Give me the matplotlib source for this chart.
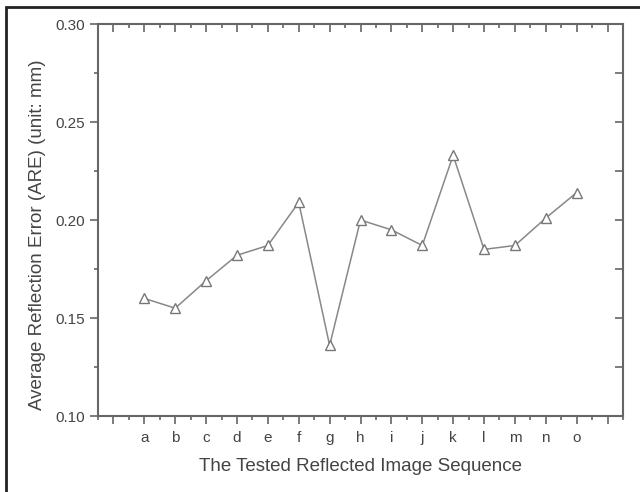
import matplotlib
matplotlib.use("Agg")
import matplotlib.pyplot as plt
from matplotlib.ticker import MultipleLocator, FixedLocator
from matplotlib.patches import Rectangle

# data
labels = ["a", "b", "c", "d", "e", "f", "g", "h", "i", "j", "k", "l", "m", "n", "o"]
are = [0.160, 0.155, 0.169, 0.182, 0.187, 0.209, 0.136, 0.200, 0.195, 0.187,
       0.233, 0.185, 0.187, 0.201, 0.214]

plt.rcParams["font.family"] = ["Liberation Sans", "DejaVu Sans"]
grey = "#666666"
txt = "#444444"

fig = plt.figure(figsize=(6.4, 4.92), dpi=100)
ax = fig.add_axes([98 / 640, 1 - 416 / 492, (623 - 98) / 640, (416 - 24) / 492])

x = list(range(1, len(labels) + 1))
ax.plot(x, are, color="#888888", lw=1.1, marker="^", markersize=7,
        markerfacecolor="white", markeredgecolor="#777777", markeredgewidth=1.0)

ax.set_xlim(-0.5, 16.5)
ax.set_ylim(0.10, 0.30)
ax.xaxis.set_major_locator(FixedLocator(range(0, 17)))
ax.set_xticklabels([""] + labels + [""])
ax.xaxis.set_minor_locator(MultipleLocator(0.5))
ax.yaxis.set_major_locator(MultipleLocator(0.05))
ax.yaxis.set_minor_locator(MultipleLocator(0.025))
ax.yaxis.set_major_formatter(plt.FuncFormatter(lambda v, p: f"{v:.2f}"))

for s in ax.spines.values():
    s.set_color(grey)
    s.set_linewidth(1.5)

ax.tick_params(which="both", direction="out", color=grey, width=1.2, labelcolor=txt,
               labelsize=11, top=False, right=False)
ax.tick_params(which="major", length=6)
ax.tick_params(which="minor", length=3)
ax.tick_params(axis="x", pad=5)
ax.tick_params(axis="y", pad=3)

# inward ticks on the top and right sides
top = ax.secondary_xaxis("top")
top.xaxis.set_major_locator(FixedLocator(range(0, 17)))
top.xaxis.set_minor_locator(MultipleLocator(0.5))
top.tick_params(which="both", direction="in", color=grey, width=1.2, labeltop=False)
top.tick_params(which="major", length=6)
top.tick_params(which="minor", length=3)
top.spines["top"].set_visible(False)
right = ax.secondary_yaxis("right")
right.yaxis.set_major_locator(MultipleLocator(0.05))
right.yaxis.set_minor_locator(MultipleLocator(0.025))
right.tick_params(which="both", direction="in", color=grey, width=1.2, labelright=False)
right.tick_params(which="major", length=6)
right.tick_params(which="minor", length=6)
right.spines["right"].set_visible(False)

ax.set_xlabel("The Tested Reflected Image Sequence", fontsize=13.5, color=txt, labelpad=9)
ax.set_ylabel("Average Reflection Error (ARE) (unit: mm)", fontsize=13.5, color=txt)
ax.yaxis.set_label_coords(-0.099, 0.462)

# outer frame
fig.patches.append(Rectangle((6 / 640, -0.1), 1.2, 1.1 - 7 / 492, transform=fig.transFigure,
                             fill=False, edgecolor="#222222", lw=2, clip_on=False))

fig.savefig("out.png", dpi=100)
